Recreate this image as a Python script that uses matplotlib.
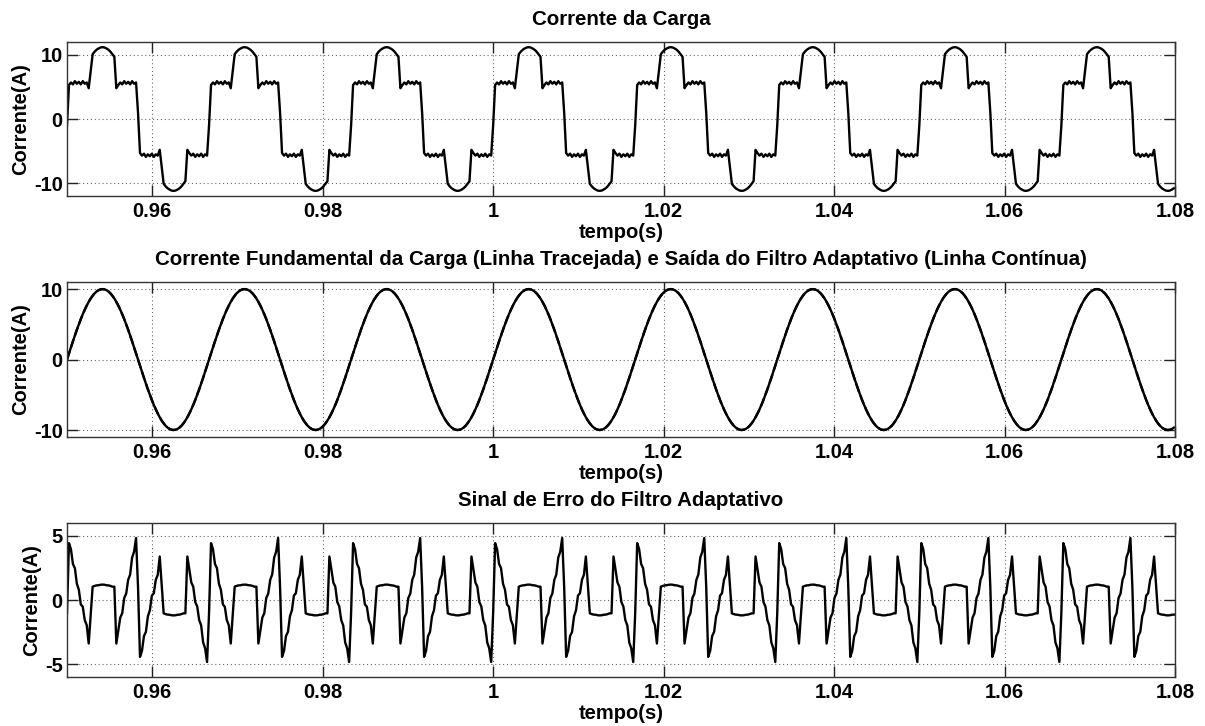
import numpy as np
import matplotlib
matplotlib.use("Agg")
import matplotlib.pyplot as plt

load_half = [-1.0, 5.3, 5.7, 5.4, 5.9, 5.5, 5.8, 5.4, 5.9, 5.5, 5.7, 4.8,
             7.5, 10.1, 10.5, 10.8, 11.0, 11.15, 11.2, 11.15, 11.0, 10.8, 10.5, 10.1,
             9.7, 4.8, 5.3, 5.7, 5.4, 5.9, 5.5, 5.8, 5.4, 5.9, 5.5, 5.7]
load_other = [1.0, -5.3, -5.7, -5.4, -5.9, -5.5, -5.8, -5.4, -5.9, -5.5, -5.7, -4.8,
              -7.5, -10.1, -10.5, -10.8, -11.0, -11.15, -11.2, -11.15, -11.0, -10.8, -10.5, -10.1,
              -9.7, -4.8, -5.3, -5.7, -5.4, -5.9, -5.5, -5.8, -5.4, -5.9, -5.5, -5.7]

fund_half = [0.0, 0.87, 1.74, 2.59, 3.42, 4.23, 5.0, 5.74, 6.43, 7.07, 7.66, 8.19,
             8.66, 9.06, 9.40, 9.66, 9.85, 9.96, 10.0, 9.96, 9.85, 9.66, 9.40, 9.06,
             8.66, 8.19, 7.66, 7.07, 6.43, 5.74, 5.0, 4.23, 3.42, 2.59, 1.74, 0.87]
fund_other = [0.0, -0.87, -1.74, -2.59, -3.42, -4.23, -5.0, -5.74, -6.43, -7.07, -7.66, -8.19,
              -8.66, -9.06, -9.40, -9.66, -9.85, -9.96, -10.0, -9.96, -9.85, -9.66, -9.40, -9.06,
              -8.66, -8.19, -7.66, -7.07, -6.43, -5.74, -5.0, -4.23, -3.42, -2.59, -1.74, -0.87]

err_half = [-1.0, 4.43, 3.96, 2.81, 2.48, 1.27, 0.8, -0.34, -0.53, -1.57, -1.96, -3.39,
            -1.16, 1.04, 1.10, 1.14, 1.15, 1.19, 1.2, 1.19, 1.15, 1.14, 1.10, 1.04,
            1.04, -3.39, -2.36, -1.37, -1.03, 0.16, 0.5, 1.57, 1.98, 3.31, 3.76, 4.83]
err_other = [1.0, -4.43, -3.96, -2.81, -2.48, -1.27, -0.8, 0.34, 0.53, 1.57, 1.96, 3.39,
             1.16, -1.04, -1.10, -1.14, -1.15, -1.19, -1.2, -1.19, -1.15, -1.14, -1.10, -1.04,
             -1.04, 3.39, 2.36, 1.37, 1.03, -0.16, -0.5, -1.57, -1.98, -3.31, -3.76, -4.83]

t_start, t_end = 0.95, 1.08
n_periods = 8
period = 1 / 60

titles = ["Corrente da Carga",
          "Corrente Fundamental da Carga (Linha Tracejada) e Saída do Filtro Adaptativo (Linha Contínua)",
          "Sinal de Erro do Filtro Adaptativo"]
x_ticks = [0.96, 0.98, 1.0, 1.02, 1.04, 1.06, 1.08]
x_ticklabels = ["0.96", "0.98", "1", "1.02", "1.04", "1.06", "1.08"]

load = np.tile(load_half + load_other, n_periods)
fund = np.tile(fund_half + fund_other, n_periods)
err = np.tile(err_half + err_other, n_periods)
t = t_start + np.arange(len(load)) * period / 72
keep = t <= t_end + 1e-9
t, load, fund, err = t[keep], load[keep], fund[keep], err[keep]

plt.rcParams["font.family"] = ["Liberation Sans", "DejaVu Sans"]
plt.rcParams["font.weight"] = "bold"
plt.rcParams["axes.unicode_minus"] = False

fig = plt.figure(figsize=(12.05, 7.26), dpi=100)
fig.patch.set_facecolor("white")

rects = [[0.0556, 0.730, 0.9195, 0.2121],
         [0.0556, 0.398, 0.9195, 0.2135],
         [0.0556, 0.0675, 0.9195, 0.2121]]
ylims = [(-12, 12), (-11, 11), (-6, 6)]
yticks = [[-10, 0, 10], [-10, 0, 10], [-5, 0, 5]]

for i, r in enumerate(rects):
    ax = fig.add_axes(r)
    if i == 0:
        ax.plot(t, load, color="black", lw=1.7)
    elif i == 1:
        ax.plot(t, fund, color="black", lw=1.7, ls="--")
        ax.plot(t, fund, color="black", lw=1.7)
    else:
        ax.plot(t, err, color="black", lw=1.7)

    ax.set_xlim(t_start, t_end)
    ax.set_ylim(*ylims[i])
    ax.set_xticks(x_ticks)
    ax.set_xticklabels(x_ticklabels)
    ax.set_yticks(yticks[i])
    ax.tick_params(direction="in", length=8, width=1, top=True, right=True,
                   labelsize=14.5, colors="#222222", labelcolor="black")
    ax.tick_params(axis="x", pad=4)
    ax.tick_params(axis="y", pad=3)
    for lab in ax.get_xticklabels() + ax.get_yticklabels():
        lab.set_fontweight("bold")
    ax.grid(True, color="black", linestyle=(0, (1, 2.5)), lw=0.8, alpha=0.6)
    for s in ax.spines.values():
        s.set_color("#333333")
        s.set_linewidth(1)
    ax.set_xlabel("tempo(s)", fontsize=14.5, fontweight="bold", labelpad=2)
    ax.set_ylabel("Corrente(A)", fontsize=14.5, fontweight="bold", labelpad=3)
    h_px = r[3] * 726
    ax.text(0.5, 1 + 17 / h_px, titles[i], transform=ax.transAxes,
            ha="center", va="baseline", fontsize=14.8, fontweight="bold")

fig.savefig("out.png", dpi=100, facecolor="white")
